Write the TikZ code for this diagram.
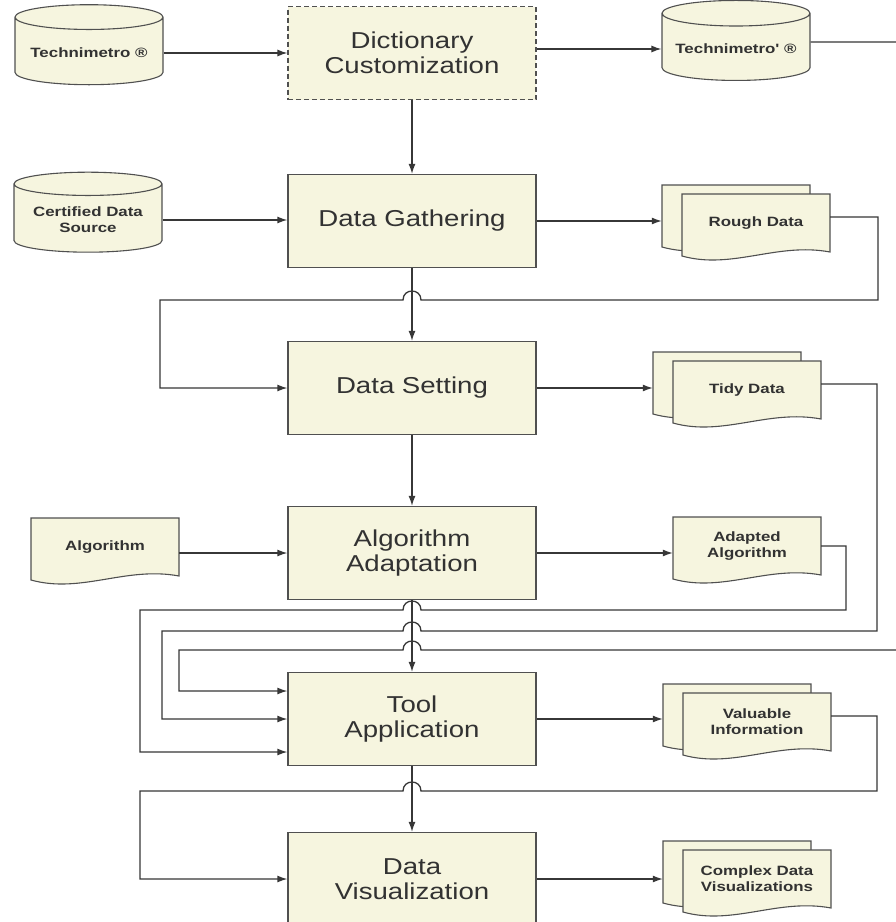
\documentclass[tikz,border=0pt]{standalone}
\usepackage{fontspec}
\newfontfamily\boxfont[FakeStretch=1.2]{Liberation Sans}
\newfontfamily\docfont[FakeStretch=1.25]{Liberation Sans}
\usetikzlibrary{shapes.geometric,arrows.meta}
\definecolor{flowFill}{RGB}{246,245,223}
\definecolor{flowLine}{RGB}{80,80,80}
\definecolor{flowText}{RGB}{50,50,50}
\definecolor{flowArrow}{RGB}{55,55,55}
% outline of one document page, origin at its top left corner
\newcommand{\docpath}{(0,0) -- (148,0) -- (148,58) .. controls (95,48) and (50,76) .. (0,62) -- cycle}
% hop of a leftward line over the main column
\newcommand{\hopat}[1]{-- (421,#1) .. controls (421,#1-12) and (403,#1-12) .. (403,#1)}
\tikzset{
    procbox/.style={
        rectangle,
        draw=flowLine,
        fill=flowFill,
        line width=1.3pt,
        minimum width=248pt,
        minimum height=93pt,
        align=center,
        text=flowText,
        font=\boxfont\fontsize{23}{25}\selectfont
    },
    dashbox/.style={dash pattern=on 5pt off 3pt, line width=1.1pt},
    store/.style={
        cylinder,
        shape border rotate=90,
        aspect=0.2,
        draw=flowLine,
        fill=flowFill,
        line width=1.1pt,
        minimum width=148pt,
        minimum height=80pt,
        align=center,
        text=flowText,
        font=\docfont\bfseries\fontsize{13.5}{16}\selectfont
    },
    docline/.style={draw=flowLine, fill=flowFill, line width=1.1pt},
    doctext/.style={
        minimum width=148pt,
        minimum height=58pt,
        inner sep=0pt,
        align=center,
        text=flowText,
        font=\docfont\bfseries\fontsize{13.5}{16}\selectfont
    },
    flow/.style={-{Latex[length=10pt,width=7pt]}, line width=1.3pt, draw=flowArrow}
}
% single page: name, x, y of top left corner, text
\newcommand{\singledoc}[4]{%
  \filldraw[docline, shift={(#2,#3)}] \docpath;
  \node[doctext] (#1) at (#2+74,#3+29) {#4};
}
% stacked pages: name, x, y of top left corner of the front page, text
\newcommand{\multidoc}[4]{%
  \filldraw[docline, shift={(#2-20,#3-9)}] \docpath;
  \filldraw[docline, shift={(#2,#3)}] \docpath;
  \node[doctext] (#1) at (#2+74,#3+29) {#4};
  \node[doctext] (#1-back) at (#2+54,#3+20) {};
}

\begin{document}
\begin{tikzpicture}[x=1pt, y=-1pt]
\useasboundingbox (0,0) rectangle (896,922);
\fill[white] (0,0) rectangle (896,922);

% main column
\node[procbox, dashbox] (dict) at (412,53) {Dictionary\\Customization};
\node[procbox] (gather) at (412,221) {Data Gathering};
\node[procbox] (setting) at (412,388) {Data Setting};
\node[procbox] (adapt) at (412,553) {Algorithm\\Adaptation};
\node[procbox] (tool) at (412,719) {Tool\\Application};
\node[procbox] (vis) at (412,879) {Data\\Visualization};

% inputs
\node[store] (techno) at (89,53) {Technimetro ®};
\node[store] (cert) at (88,220) {Certified Data\\Source};
\singledoc{algo}{31}{518}{Algorithm}

% outputs
\node[store] (techP) at (736,49) {Technimetro' ®};
\multidoc{rough}{682}{194}{Rough Data}
\multidoc{tidy}{673}{361}{Tidy Data}
\singledoc{adapted}{673}{517}{Adapted\\Algorithm}
\multidoc{valuable}{683}{693}{Valuable\\Information}
\multidoc{complex}{683}{850}{Complex Data\\Visualizations}

% straight arrows
\draw[flow] (techno.east) -- (dict.west |- techno.east);
\draw[flow] (dict.east |- techP.west) -- (techP.west);
\draw[flow] (cert.east) -- (gather.west |- cert.east);
\draw[flow] (algo.east |- adapt.west) -- (adapt.west);
\draw[flow] (dict.south) -- (gather.north);
\draw[flow] (gather.south) -- (setting.north);
\draw[flow] (setting.south) -- (adapt.north);
\draw[flow] (adapt.south) -- (tool.north);
\draw[flow] (tool.south) -- (vis.north);
\draw[flow] (gather.east) -- (rough-back.west |- gather.east);
\draw[flow] (setting.east) -- (tidy-back.west |- setting.east);
\draw[flow] (adapt.east) -- (adapted.west |- adapt.east);
\draw[flow] (tool.east) -- (valuable-back.west |- tool.east);
\draw[flow] (vis.east) -- (complex-back.west |- vis.east);

% feedback lines
\draw[flow] ([yshift=6pt]rough.east) -| (878,300) \hopat{300} -- (160,300) |- (setting.west);
\draw[flow] (adapted.east) -| (846,610) \hopat{610} -- (140,610) |- ([yshift=-33pt]tool.west);
\draw[flow] ([yshift=6pt]tidy.east) -| (877,631) \hopat{631} -- (162,631) |- (tool.west);
\draw[flow] ([yshift=7pt]techP.east) -| (915,650) \hopat{650} -- (179,650) |- ([yshift=28pt]tool.west);
\draw[flow] ([yshift=6pt]valuable.east) -| (877,791) \hopat{791} -- (140,791) |- (vis.west);
\end{tikzpicture}
\end{document}
